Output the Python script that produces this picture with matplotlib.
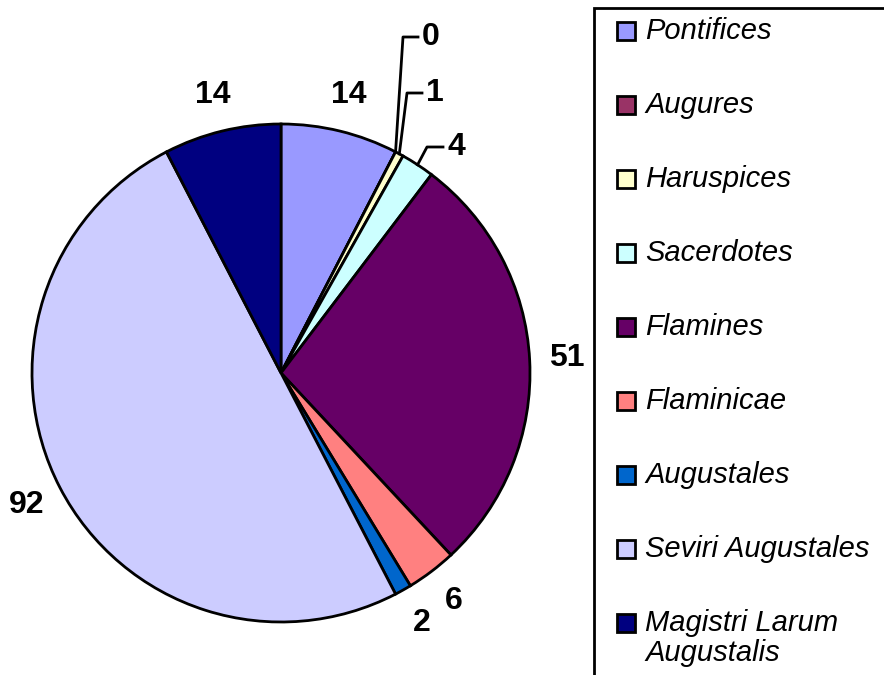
"""
Pie chart of priesthood counts, with an Excel-style legend on the right.
Output: out.png (884x675)
"""

import matplotlib.pyplot as plt
import numpy as np
from matplotlib.patches import Rectangle

plt.rcParams["font.family"] = ["Liberation Sans", "DejaVu Sans"]

CATEGORIES = ["Pontifices", "Augures", "Haruspices", "Sacerdotes", "Flamines",
              "Flaminicae", "Augustales", "Seviri Augustales",
              "Magistri Larum\nAugustalis"]
COUNTS = [14, 0, 1, 4, 51, 6, 2, 92, 14]
COLORS = ["#9999FF", "#993366", "#FFFFCC", "#CCFFFF", "#660066",
          "#FF8080", "#0066CC", "#CCCCFF", "#000080"]

W, H = 884, 675
CENTER = (281, H - 373)
RADIUS = 249

# small slices get a leader line: (elbow x, elbow y, line end x) in pixels, y from top
LEADERS = {1: (403, 37, 418), 2: (407, 93, 422), 3: (427, 147, 443)}


def main():
    fig = plt.figure(figsize=(W / 100, H / 100), dpi=100)
    ax = fig.add_axes([0, 0, 1, 1])

    wedges, _ = ax.pie(COUNTS, colors=COLORS, startangle=90, counterclock=False,
                       center=CENTER, radius=RADIUS,
                       wedgeprops=dict(edgecolor="black", linewidth=2))
    ax.set_xlim(0, W)
    ax.set_ylim(0, H)
    ax.set_aspect("equal")
    ax.axis("off")

    # --- data labels ---
    for i, (w, val) in enumerate(zip(wedges, COUNTS)):
        theta = np.deg2rad((w.theta1 + w.theta2) / 2)
        if i in LEADERS:
            ex, ey, lx = LEADERS[i]
            sx = CENTER[0] + RADIUS * np.cos(theta)
            sy = CENTER[1] + RADIUS * np.sin(theta)
            ax.plot([sx, ex, lx], [sy, H - ey, H - ey], color="black", lw=2)
            ax.text(lx + 4, H - ey, str(val), ha="left", va="center",
                    fontsize=23, fontweight="bold")
        else:
            d = 1.15 * RADIUS
            ax.text(CENTER[0] + d * np.cos(theta), CENTER[1] + d * np.sin(theta),
                    str(val), ha="center", va="center",
                    fontsize=23, fontweight="bold")

    # --- legend (frame runs off the right and bottom edges) ---
    ax.add_patch(Rectangle((594, -20), 400, H - 8 + 20, facecolor="white",
                           edgecolor="black", lw=2))
    for i, (name, col) in enumerate(zip(CATEGORIES, COLORS)):
        y = H - (31 + 74 * i)
        ax.add_patch(Rectangle((617, y - 9), 18, 18, facecolor=col,
                               edgecolor="black", lw=2))
        if "\n" in name:
            ax.text(645, y + 14, name, ha="left", va="top", fontsize=21,
                    fontstyle="italic", linespacing=1.1)
        else:
            ax.text(645, y, name, ha="left", va="center", fontsize=21,
                    fontstyle="italic")

    fig.savefig("out.png", dpi=100)
    plt.close(fig)


if __name__ == "__main__":
    main()
